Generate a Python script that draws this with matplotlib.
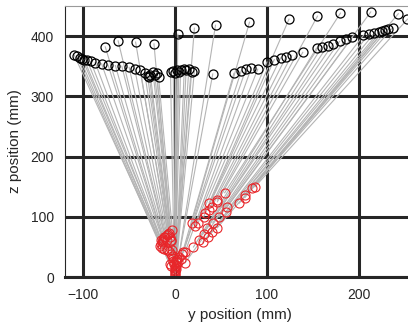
import matplotlib
matplotlib.use("Agg")
import matplotlib.pyplot as plt

# final positions (black) in mm
black_y = [-107, -104, -101, -96, -92, -87, -80, -73, -65, -58, -50, -44, -38,
           -33, -30, -27, -24, -22, -18, -5, -2, 2, 6, 10, 15, 21,
           -76, -62, -43, -23, 3, 21, 44, 41, 64, 72, 77, 83, 90, 81,
           100, 108, 115, 121, 127, 139, 124, 155, 180, 154, 160, 166, 172,
           179, 193, 205, 211, 217, 222, 232, 213, 243, 253, 225, 237, 228, 186,
           -28, -20, 0, 4, 12, 18, -110, -99]
black_z = [367, 364, 362, 360, 358, 356, 354, 352, 351, 350, 348, 346, 343,
           338, 334, 336, 340, 335, 332, 340, 342, 343, 344, 345, 346, 342,
           382, 392, 390, 387, 403, 413, 418, 337, 338, 342, 345, 347, 345, 423,
           357, 361, 364, 366, 368, 373, 428, 433, 438, 380, 382, 384, 387,
           391, 398, 401, 403, 405, 407, 412, 440, 437, 428, 409, 414, 410, 395,
           332, 338, 339, 341, 343, 340, 369, 361]

# initial positions (red) in mm
red_y = [-16, -14, -15, -14, -12, -15, -13, -13, -12, -11, -9, -9, -8,
         -7, -6, -5, -3, -4, -3, -1, 0, 0, 0, 1, 1, 2,
         -9, -7, -4, -2, 0, 1, 3, 4, 6, 8, 9, 11, 22, 18,
         25, 31, 33, 37, 40, 46, 37, 46, 54, 20, 26, 31, 35,
         41, 48, 55, 30, 36, 40, 46, 57, 76, 87, 70, 84, 76, 11,
         -3, -2, 0, 0, 1, 1, -6, -5]
red_z = [52, 48, 55, 58, 47, 62, 60, 63, 66, 67, 62, 70, 72,
         73, 66, 62, 45, 60, 78, 22, 12, 8, 5, 18, 28, 30,
         45, 44, 38, 32, 15, 25, 25, 33, 30, 38, 42, 42, 85, 90,
         90, 100, 107, 112, 117, 125, 123, 128, 140, 50, 62, 72, 82,
         90, 100, 108, 58, 67, 75, 82, 117, 137, 150, 123, 148, 132, 24,
         35, 27, 3, 10, 14, 20, 22, 18]

x_ticks = [-100, 0, 100, 200]
z_ticks = [0, 100, 200, 300, 400]

plt.rcParams["font.family"] = ["Liberation Sans", "DejaVu Sans"]

fig = plt.figure(figsize=(4.08, 3.28), dpi=100)
ax = fig.add_axes([0.159, 0.155, 0.86, 0.827])

for x in x_ticks:
    ax.axvline(x, color="#262626", lw=2.2, zorder=0)
for z in z_ticks:
    ax.axhline(z, color="#262626", lw=2.2, zorder=0)

for by, bz, ry, rz in zip(black_y, black_z, red_y, red_z):
    ax.plot([ry, by], [rz, bz], color="#b4b4b4", lw=0.8, zorder=1)

ax.plot(black_y, black_z, "o", mfc="none", mec="black", ms=6.5, mew=0.9, zorder=3)
ax.plot(red_y, red_z, "o", mfc="none", mec="#e8262a", ms=6.5, mew=0.8, zorder=2)

ax.set_xlim(-120, 262)
ax.set_ylim(0, 450)
ax.set_xticks(x_ticks)
ax.set_yticks(z_ticks)
ax.tick_params(length=0, pad=8, labelsize=10, colors="#262626")

ax.set_xlabel("y position (mm)", fontsize=11, color="#262626", labelpad=4)
ax.set_ylabel("z position (mm)", fontsize=11, color="#262626", labelpad=6)

ax.spines["right"].set_visible(False)
ax.spines["top"].set_color("#9a9a9a")
ax.spines["top"].set_linewidth(0.8)
ax.spines["left"].set_color("#262626")
ax.spines["bottom"].set_color("#262626")
ax.spines["bottom"].set_linewidth(2.2)

fig.savefig("out.png", dpi=100)
